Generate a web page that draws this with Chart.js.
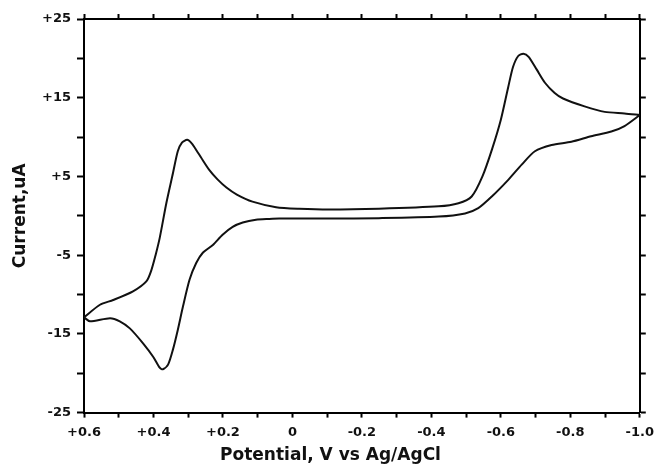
<!DOCTYPE html>
<html>
<head>
<meta charset="utf-8">
<script src="https://cdn.jsdelivr.net/npm/chart.js@4"></script>
<style>
  body { margin: 0; background: #fff; }
  canvas { display: block; }
</style>
</head>
<body>
<canvas id="cv" width="661" height="466"></canvas>
<script>
// forward sweep, +0.6 V -> -1.0 V (upper branch)
const forwardPotential = [0.600, 0.554, 0.516, 0.459, 0.420, 0.406, 0.394, 0.382, 0.363, 0.344, 0.330, 0.318, 0.303, 0.290, 0.276, 0.263, 0.239, 0.215, 0.190, 0.160, 0.115, 0.047, -0.019, -0.105, -0.249, -0.421, -0.478, -0.516, -0.547, -0.575, -0.600, -0.621, -0.635, -0.650, -0.665, -0.680, -0.703, -0.727, -0.755, -0.779, -0.841, -0.899, -0.956, -1.000];
const forwardCurrent   = [-12.9, -11.3, -10.7, -9.6, -8.3, -6.9, -5.0, -2.8, 1.6, 5.4, 8.2, 9.3, 9.65, 9.2, 8.3, 7.4, 5.8, 4.6, 3.6, 2.7, 1.8, 1.1, 0.9, 0.8, 0.9, 1.2, 1.6, 2.45, 5.0, 8.5, 12.2, 16.3, 18.9, 20.3, 20.6, 20.2, 18.6, 16.9, 15.6, 14.9, 13.9, 13.2, 13.0, 12.8];

// reverse sweep, -1.0 V -> +0.6 V (lower branch)
const reversePotential = [-1.000, -0.956, -0.918, -0.860, -0.803, -0.746, -0.698, -0.660, -0.622, -0.574, -0.535, -0.497, -0.421, -0.249, -0.105, 0.038, 0.067, 0.105, 0.143, 0.172, 0.201, 0.229, 0.258, 0.277, 0.296, 0.315, 0.330, 0.344, 0.358, 0.373, 0.382, 0.401, 0.430, 0.468, 0.497, 0.525, 0.583, 0.600];
const reverseCurrent   = [12.8, 11.4, 10.7, 10.1, 9.4, 9.0, 8.2, 6.5, 4.6, 2.45, 0.97, 0.3, -0.1, -0.3, -0.35, -0.35, -0.4, -0.5, -0.85, -1.4, -2.4, -3.7, -4.7, -6.0, -8.1, -11.5, -14.5, -17.0, -18.9, -19.5, -19.3, -17.9, -16.2, -14.3, -13.4, -13.0, -13.4, -12.9];

const xMin = -1.0, xMax = 0.6;
const yMin = -25, yMax = 25;

const loop = forwardPotential.map((v, i) => ({ x: v, y: forwardCurrent[i] }))
  .concat(reversePotential.map((v, i) => ({ x: v, y: reverseCurrent[i] })));

const labelFont = { family: 'DejaVu Sans', size: 13, weight: 'bold' };
const titleFont = { family: 'DejaVu Sans', size: 17, weight: 'bold' };

function xLabel(value) {
  const t = Math.round(value * 10);
  if (t % 2 !== 0) return '';
  if (t === 0) return '0';
  return (t > 0 ? '+' : '') + (t / 10).toFixed(1);
}
function yLabel(value) {
  const v = Math.round(value);
  if ((v + 25) % 10 !== 0) return '';
  return v > 0 ? '+' + v : String(v);
}

const frame = { display: true, color: '#000', width: 2 };

new Chart(document.getElementById('cv'), {
  type: 'scatter',
  data: {
    datasets: [{
      data: loop,
      showLine: true,
      borderColor: '#111',
      borderWidth: 2,
      pointRadius: 0,
      tension: 0.25,
      fill: false
    }]
  },
  options: {
    responsive: false,
    animation: false,
    devicePixelRatio: 1,
    layout: { padding: 0 },
    plugins: {
      legend: { display: false },
      tooltip: { enabled: false },
      // x axis title, centred on the whole canvas like the original
      title: { display: true, position: 'bottom', text: 'Potential, V vs Ag/AgCl', color: '#111', font: titleFont, padding: 0 }
    },
    scales: {
      x: {
        type: 'linear', position: 'bottom', reverse: true,
        min: xMin, max: xMax,
        afterFit: s => { s.height = 33; },
        border: frame,
        grid: { drawOnChartArea: false, drawTicks: true, tickLength: 5, color: '#000', tickWidth: 2 },
        ticks: { stepSize: 0.1, autoSkip: false, maxRotation: 0, padding: 7, color: '#111', font: labelFont, callback: xLabel }
      },
      xTop: {
        type: 'linear', position: 'top', reverse: true,
        min: xMin, max: xMax,
        afterFit: s => { s.height = 19; },
        border: frame,
        grid: { drawOnChartArea: false, drawTicks: true, tickLength: 5, color: '#000', tickWidth: 2 },
        ticks: { stepSize: 0.1, autoSkip: false, display: true, font: { size: 1 }, callback: () => '' }
      },
      y: {
        type: 'linear', position: 'left',
        min: yMin, max: yMax,
        afterFit: s => { s.width = 84; },
        border: frame,
        grid: { drawOnChartArea: false, drawTicks: true, tickLength: 7, color: '#000', tickWidth: 2 },
        ticks: { stepSize: 5, autoSkip: false, padding: 6, color: '#111', font: labelFont, callback: yLabel },
        title: { display: true, text: 'Current,uA', color: '#111', font: titleFont, padding: { top: 10, bottom: 0 } }
      },
      yRight: {
        type: 'linear', position: 'right',
        min: yMin, max: yMax,
        afterFit: s => { s.width = 19; },
        border: frame,
        grid: { drawOnChartArea: false, drawTicks: true, tickLength: 6, color: '#000', tickWidth: 2 },
        ticks: { stepSize: 5, autoSkip: false, font: { size: 1 }, callback: () => '' }
      }
    }
  }
});
</script>
</body>
</html>
